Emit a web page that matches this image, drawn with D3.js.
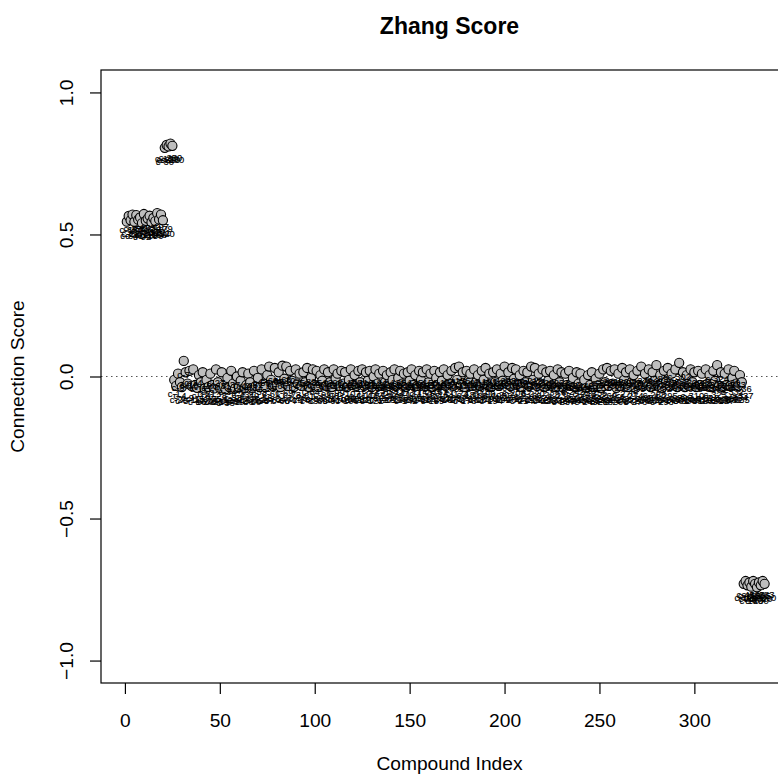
<!DOCTYPE html>
<html>
<head>
<meta charset="utf-8">
<script src="https://cdn.jsdelivr.net/npm/d3@7"></script>
<style>
  html, body { margin: 0; padding: 0; background: #fff; }
  svg { display: block; font-family: "Liberation Sans", Arial, Helvetica, sans-serif; }
</style>
</head>
<body>
<svg id="chart" width="778" height="775"></svg>
<script>
// ---- data ----
const titleText = "Zhang Score";
const xTitle = "Compound Index";
const yTitle = "Connection Score";
const xTicks = [0, 50, 100, 150, 200, 250, 300];
const yTicks = [-1, -0.5, 0, 0.5, 1];
const yTickLabels = ["\u22121.0", "\u22120.5", "0.0", "0.5", "1.0"];

// high cluster (~0.55)
const clusterAScores = [0.545, 0.565, 0.55, 0.57, 0.545, 0.568, 0.552, 0.56, 0.54, 0.572,
                        0.548, 0.556, 0.566, 0.543, 0.558, 0.547, 0.575, 0.553, 0.57, 0.55];
const clusterAIds = [6, 13, 22, 35, 41, 58, 67, 79, 92, 103, 115, 131, 148, 156, 170, 188, 197, 211, 179, 120];

// top cluster (~0.81)
const clusterBScores = [0.805, 0.815, 0.81, 0.82, 0.812];
const clusterBIds = [30, 150, 210, 250, 280];

// main band (~0)
const middleScores = [
  -0.012, -0.033, 0.01, -0.02, -0.037, 0.055, 0.015, -0.025, 0.02, -0.033,
  0.025, -0.03, -0.04, 0.005, -0.02, 0.015, -0.042, -0.012, -0.037, 0.01,
  -0.03, -0.042, 0.025, -0.02, -0.04, 0.015, -0.033, -0.045, -0.005, -0.037,
  0.02, -0.025, -0.042, 0.0, -0.037, -0.015, 0.015, -0.04, -0.03, 0.01,
  -0.02, -0.04, 0.02, -0.033, -0.005, -0.037, 0.025, -0.025, -0.037, 0.005,
  0.035, -0.012, -0.033, 0.03, -0.03, 0.015, -0.037, 0.038, -0.008, 0.035,
  -0.033, 0.02, -0.015, -0.037, 0.025, -0.025, 0.01, -0.033, 0.015, -0.02,
  0.03, -0.037, -0.005, 0.025, -0.03, 0.02, -0.037, 0.005, -0.015, 0.025,
  -0.033, 0.015, -0.02, -0.037, 0.025, -0.008, 0.01, -0.033, 0.02, -0.025,
  0.015, -0.037, -0.012, 0.025, -0.03, 0.005, -0.033, 0.02, -0.02, 0.025,
  -0.033, 0.015, -0.015, 0.02, -0.037, 0.0, 0.025, -0.025, 0.01, -0.033,
  0.02, -0.02, 0.005, -0.033, 0.015, -0.012, 0.025, -0.033, -0.005, 0.02,
  -0.025, 0.01, -0.037, 0.015, -0.015, 0.025, -0.03, 0.005, -0.033, 0.02,
  -0.012, 0.015, -0.033, 0.025, -0.02, 0.01, -0.037, 0.02, -0.005, -0.03,
  0.015, -0.015, 0.025, -0.033, 0.005, -0.025, 0.02, -0.033, 0.03, -0.012,
  0.035, -0.03, 0.015, -0.037, 0.02, -0.015, 0.01, -0.033, 0.025, -0.02,
  0.005, -0.033, 0.02, -0.012, 0.03, -0.03, 0.01, -0.037, 0.015, -0.02,
  0.025, -0.033, 0.01, -0.015, 0.035, -0.025, 0.015, -0.033, 0.03, -0.008,
  0.025, -0.03, 0.005, -0.037, 0.02, -0.02, 0.015, -0.033, 0.035, -0.012,
  0.03, -0.033, 0.01, -0.025, 0.025, -0.037, 0.015, -0.015, 0.02, -0.033,
  0.005, -0.037, 0.025, -0.02, 0.015, -0.04, 0.01, -0.03, 0.02, -0.033,
  -0.005, -0.037, 0.015, -0.025, 0.01, -0.033, -0.012, -0.04, 0.005, -0.03,
  0.015, -0.037, -0.008, -0.033, 0.01, -0.04, 0.025, -0.02, 0.03, -0.033,
  0.02, -0.025, 0.025, -0.04, 0.01, -0.033, 0.03, -0.012, 0.015, -0.037,
  0.025, -0.02, 0.005, -0.04, 0.02, -0.03, 0.035, -0.033, 0.01, -0.025,
  0.025, -0.037, 0.015, -0.015, 0.04, -0.033, 0.005, -0.04, 0.02, -0.02,
  0.03, -0.033, 0.01, -0.03, 0.025, -0.037, 0.048, -0.025, 0.015, -0.037,
  0.005, -0.033, 0.025, -0.02, 0.015, -0.037, 0.02, -0.03, 0.01, -0.033,
  0.025, -0.025, 0.005, -0.037, 0.02, -0.015, 0.04, -0.033, 0.015, -0.037,
  0.01, -0.03, 0.025, -0.033, -0.005, 0.02, -0.025, -0.033, 0.005, -0.02
];

// low cluster (~-0.73)
const clusterCScores = [-0.73, -0.72, -0.735, -0.725, -0.74, -0.72, -0.73, -0.742, -0.725, -0.735, -0.72, -0.73];
const clusterCIds = [12, 45, 88, 110, 140, 165, 200, 230, 305, 320, 283, 290];

// ---- build point table ----
const allScores = [].concat(clusterAScores, clusterBScores, middleScores, clusterCScores);
const clusterIdSet = new Set([].concat(clusterAIds, clusterBIds, clusterCIds));
const middleIds = d3.range(1, allScores.length + 1).filter(id => !clusterIdSet.has(id));
const allIds = [].concat(clusterAIds, clusterBIds, middleIds, clusterCIds);
const points = allScores.map((s, i) => ({ idx: i + 1, score: s, label: "c-" + allIds[i] }));

// ---- layout ----
const svg = d3.select("#chart");
const mLeft = 101, mRight = 798, mTop = 70, mBottom = 683;

const x = d3.scaleLinear().domain([-12.6, 354.6]).range([mLeft, mRight]);
const y = d3.scaleLinear().domain([-1.079, 1.079]).range([mBottom, mTop]);

svg.append("rect").attr("width", 778).attr("height", 775).attr("fill", "#fff");

// reference line
svg.append("line")
  .attr("x1", mLeft).attr("x2", mRight)
  .attr("y1", y(0)).attr("y2", y(0))
  .attr("stroke", "#555").attr("stroke-width", 1.2)
  .attr("stroke-dasharray", "1.5,3.5");

// points
svg.append("g").selectAll("circle").data(points).join("circle")
  .attr("cx", d => x(d.idx)).attr("cy", d => y(d.score))
  .attr("r", 4.6)
  .attr("fill", "#bebebe").attr("stroke", "#000").attr("stroke-width", 1.1);

// labels
svg.append("g").selectAll("text").data(points).join("text")
  .attr("x", d => x(d.idx)).attr("y", d => y(d.score) + 17)
  .attr("text-anchor", "middle")
  .attr("font-size", 9.4)
  .attr("fill", "#000")
  .attr("stroke", "#000").attr("stroke-width", 0.15)
  .text(d => d.label);

// box
svg.append("rect")
  .attr("x", mLeft).attr("y", mTop)
  .attr("width", mRight - mLeft).attr("height", mBottom - mTop)
  .attr("fill", "none").attr("stroke", "#000").attr("stroke-width", 1.2);

// x axis
const gx = svg.append("g").attr("transform", `translate(0,${mBottom})`)
  .call(d3.axisBottom(x).tickValues(xTicks).tickSize(11).tickFormat(d3.format("d")));
gx.select(".domain").remove();
gx.selectAll("line").attr("stroke", "#000").attr("stroke-width", 1.2);
gx.selectAll("text").attr("y", 44).attr("dy", 0)
  .attr("font-size", 19.2).attr("fill", "#000")
  .attr("font-family", "'Liberation Sans', Arial, sans-serif");

// y axis
const gy = svg.append("g").attr("transform", `translate(${mLeft},0)`)
  .call(d3.axisLeft(y).tickValues(yTicks).tickSize(11).tickFormat((d, i) => yTickLabels[i]));
gy.select(".domain").remove();
gy.selectAll("line").attr("stroke", "#000").attr("stroke-width", 1.2);
gy.selectAll("text").attr("x", 0).attr("dy", 0)
  .attr("text-anchor", "middle")
  .attr("transform", "translate(-28,0) rotate(-90)")
  .attr("font-size", 19.2).attr("fill", "#000")
  .attr("font-family", "'Liberation Sans', Arial, sans-serif");

// titles
svg.append("text")
  .attr("x", (mLeft + mRight) / 2).attr("y", 34)
  .attr("text-anchor", "middle").attr("font-size", 23).attr("font-weight", "bold")
  .text(titleText);

svg.append("text")
  .attr("x", (mLeft + mRight) / 2).attr("y", 770)
  .attr("text-anchor", "middle").attr("font-size", 19.2)
  .text(xTitle);

svg.append("text")
  .attr("transform", `translate(24,${(mTop + mBottom) / 2}) rotate(-90)`)
  .attr("text-anchor", "middle").attr("font-size", 19.2)
  .text(yTitle);
</script>
</body>
</html>
